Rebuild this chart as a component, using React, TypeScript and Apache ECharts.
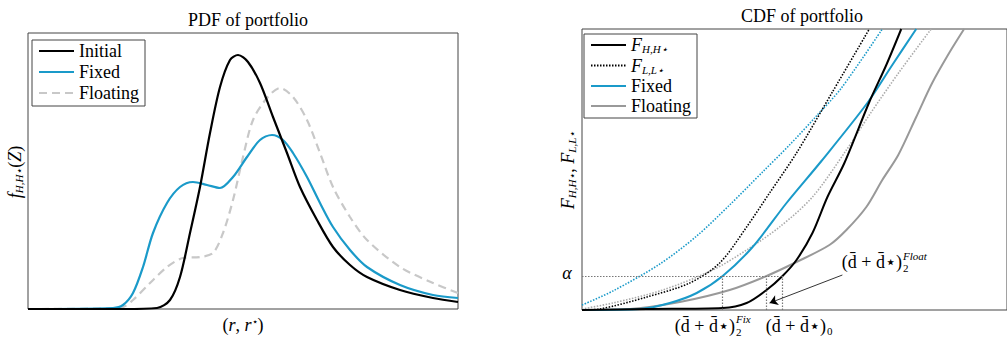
import React, { useEffect, useRef } from "react";
import * as echarts from "echarts";

// ---------- PDF panel data (x, density) ----------
const pdfInitial: number[][] = [
  [0, 0], [95, 0], [129, 1], [142, 9], [152, 32], [162, 76], [172, 122], [182, 176], [192, 222],
  [202, 249], [210, 254], [220, 247], [232, 226], [245, 192], [259, 156], [272, 122], [289, 89],
  [305, 62], [322, 44], [339, 32], [372, 19], [405, 11], [430, 7],
];
const pdfFixed: number[][] = [
  [0, 0], [85, 1], [95, 4], [105, 16], [115, 42], [125, 76], [139, 106], [152, 122], [165, 127],
  [179, 124], [192, 121], [205, 132], [219, 152], [232, 169], [244, 174], [255, 169], [265, 156],
  [279, 132], [292, 106], [305, 82], [322, 59], [339, 42], [372, 24], [405, 14], [430, 11],
];
const pdfFloating: number[][] = [
  [0, 0], [92, 1], [105, 9], [122, 26], [139, 42], [155, 51], [172, 52], [185, 56], [195, 76],
  [205, 109], [215, 152], [225, 189], [239, 211], [252, 221], [265, 212], [279, 189], [292, 156],
  [305, 122], [322, 92], [339, 69], [372, 42], [405, 26], [430, 16],
];

// ---------- CDF panel data (x, cumulative) ----------
const cdfHH: number[][] = [
  [0, 0], [65, 1], [141, 2], [165, 7], [185, 20], [201, 34], [215, 50], [231, 77], [246, 113],
  [263, 147], [288, 208], [305, 245], [320, 281],
];
const cdfLL: number[][] = [
  [0, 0], [18, 1], [65, 13], [108, 27], [138, 47], [165, 83], [188, 117], [215, 157], [251, 218],
  [288, 281],
];
const cdfFixed: number[][] = [
  [0, 0], [58, 1], [88, 7], [115, 17], [141, 34], [171, 63], [205, 107], [240, 149], [286, 207],
  [311, 245], [335, 281],
];
const cdfFixedLL: number[][] = [
  [0, 5], [31, 19], [78, 46], [115, 74], [148, 105], [181, 138], [208, 165], [235, 194], [260, 222],
  [301, 281],
];
const cdfFloating: number[][] = [
  [0, 0], [48, 1], [98, 8], [148, 20], [185, 34], [215, 48], [248, 65], [265, 80], [285, 103],
  [301, 130], [317, 155], [335, 193], [351, 227], [368, 257], [383, 281],
];
const cdfFloatingLL: number[][] = [
  [0, 1], [31, 7], [81, 20], [131, 40], [165, 60], [198, 83], [231, 113], [265, 160], [288, 195],
  [318, 238], [350, 281],
];

// quantile construction
const alphaLevel = 34;
const quantFix = 141;
const quantFloat = 185;
const quantInit = 201;
const arrowFrom = [261, 35];
const arrowTo = [188, 7];

const FONT = "serif";
const BLUE = "#1a9ac9";

const legendNames: Record<string, string> = {
  Initial: "Initial",
  Fixed: "Fixed",
  Floating: "Floating",
  HH: "{i|F}{s|H,H⋆}",
  LL: "{i|F}{s|L,L⋆}",
  cdfFixed: "Fixed",
  cdfFloat: "Floating",
};

const richBase = {
  n: { fontFamily: FONT, fontSize: 18, color: "#000" },
  i: { fontFamily: FONT, fontSize: 18, fontStyle: "italic", color: "#000" },
  s: { fontFamily: FONT, fontSize: 11, fontStyle: "italic", color: "#000", padding: [8, 0, 0, 0] },
};

const hiddenSymbol = { color: "transparent", borderWidth: 0, opacity: 0 };

function App() {
  const ref = useRef<HTMLDivElement>(null);
  useEffect(() => {
    const chart = echarts.init(ref.current!, null, { renderer: "svg" });
    const dotted = [1.5, 1.5];
    const option: any = {
      animation: false,
      textStyle: { fontFamily: FONT },
      title: [
        { text: "PDF of portfolio", left: 243, top: 6, textAlign: "center",
          textStyle: { fontFamily: FONT, fontSize: 18, fontWeight: "normal", color: "#000" } },
        { text: "CDF of portfolio", left: 797, top: 2, textAlign: "center",
          textStyle: { fontFamily: FONT, fontSize: 18, fontWeight: "normal", color: "#000" } },
      ],
      grid: [
        { left: 28, top: 33, width: 430, height: 276, show: true, borderColor: "#444", borderWidth: 1 },
        { left: 582, top: 29, width: 426, height: 281, show: true, borderColor: "#444", borderWidth: 1 },
      ],
      xAxis: [
        { type: "value", gridIndex: 0, min: 0, max: 430, show: false },
        { type: "value", gridIndex: 1, min: 0, max: 426, show: false },
      ],
      yAxis: [
        { type: "value", gridIndex: 0, min: 0, max: 276, show: false },
        { type: "value", gridIndex: 1, min: 0, max: 281, show: false },
      ],
      legend: [
        {
          data: ["Initial", "Fixed", "Floating"],
          orient: "vertical", left: 32, top: 40, padding: [2, 6, 4, 6],
          itemWidth: 35, itemHeight: 14, itemGap: 3,
          borderColor: "#444", borderWidth: 1, backgroundColor: "#fff",
          selectedMode: false, itemStyle: hiddenSymbol,
          textStyle: { fontFamily: FONT, fontSize: 18, color: "#000", lineHeight: 14 },
          formatter: (n: string) => legendNames[n],
        },
        {
          data: ["HH", "LL", "cdfFixed", "cdfFloat"],
          orient: "vertical", left: 584, top: 34, padding: [2, 6, 3, 6],
          itemWidth: 35, itemHeight: 14, itemGap: 2,
          borderColor: "#444", borderWidth: 1, backgroundColor: "#fff",
          selectedMode: false, itemStyle: hiddenSymbol,
          textStyle: { fontFamily: FONT, fontSize: 18, color: "#000", lineHeight: 15, rich: richBase },
          formatter: (n: string) => legendNames[n],
        },
      ],
      series: [
        { name: "Floating", type: "line", xAxisIndex: 0, yAxisIndex: 0, data: pdfFloating, smooth: 0.3,
          symbol: "none", lineStyle: { color: "#c8c8c8", width: 2.2, type: [8, 5] }, itemStyle: { color: "#c8c8c8" }, z: 2 },
        { name: "Fixed", type: "line", xAxisIndex: 0, yAxisIndex: 0, data: pdfFixed, smooth: 0.3,
          symbol: "none", lineStyle: { color: BLUE, width: 2.2 }, itemStyle: { color: BLUE }, z: 3 },
        { name: "Initial", type: "line", xAxisIndex: 0, yAxisIndex: 0, data: pdfInitial, smooth: 0.3,
          symbol: "none", lineStyle: { color: "#000", width: 2.2 }, itemStyle: { color: "#000" }, z: 4 },

        { name: "cdfFloatLL", type: "line", xAxisIndex: 1, yAxisIndex: 1, data: cdfFloatingLL, smooth: 0.3,
          symbol: "none", lineStyle: { color: "#aaa", width: 1.6, type: dotted }, itemStyle: { color: "#aaa" } },
        { name: "cdfFixedLL", type: "line", xAxisIndex: 1, yAxisIndex: 1, data: cdfFixedLL, smooth: 0.3,
          symbol: "none", lineStyle: { color: BLUE, width: 1.6, type: dotted }, itemStyle: { color: BLUE } },
        { name: "LL", type: "line", xAxisIndex: 1, yAxisIndex: 1, data: cdfLL, smooth: 0.3,
          symbol: "none", lineStyle: { color: "#000", width: 1.6, type: dotted }, itemStyle: { color: "#000" } },
        { name: "cdfFloat", type: "line", xAxisIndex: 1, yAxisIndex: 1, data: cdfFloating, smooth: 0.3,
          symbol: "none", lineStyle: { color: "#999", width: 2 }, itemStyle: { color: "#999" } },
        { name: "cdfFixed", type: "line", xAxisIndex: 1, yAxisIndex: 1, data: cdfFixed, smooth: 0.3,
          symbol: "none", lineStyle: { color: BLUE, width: 2 }, itemStyle: { color: BLUE } },
        { name: "HH", type: "line", xAxisIndex: 1, yAxisIndex: 1, data: cdfHH, smooth: 0.3,
          symbol: "none", lineStyle: { color: "#000", width: 2 }, itemStyle: { color: "#000" } },
        { name: "guides", type: "line", xAxisIndex: 1, yAxisIndex: 1, data: [], symbol: "none",
          markLine: {
            silent: true, symbol: "none", label: { show: false },
            lineStyle: { color: "#777", width: 1.2, type: dotted },
            data: [
              [{ coord: [0, alphaLevel] }, { coord: [quantInit, alphaLevel] }],
              [{ coord: [quantFix, 0] }, { coord: [quantFix, alphaLevel] }],
              [{ coord: [quantFloat, 0] }, { coord: [quantFloat, alphaLevel] }],
              [{ coord: [quantInit, 0] }, { coord: [quantInit, alphaLevel] }],
            ],
          } },
        { name: "arrow", type: "line", xAxisIndex: 1, yAxisIndex: 1, data: [], symbol: "none",
          markLine: {
            silent: true, symbol: ["none", "arrow"], symbolSize: 8, label: { show: false },
            lineStyle: { color: "#000", width: 0.8, type: "solid" },
            data: [[{ coord: arrowFrom }, { coord: arrowTo }]],
          } },
      ],
      graphic: [
        // left y label
        { type: "text", x: 15, y: 172, rotation: Math.PI / 2,
          style: { text: "{i|f}{s|H,H⋆}{n|(}{i|Z}{n|)}", rich: richBase, fontFamily: FONT, align: "center", verticalAlign: "middle" } },
        // left x label
        { type: "text", x: 243, y: 325,
          style: { text: "{n|(}{i|r}{n|, }{i|r}{u|⋆}{n|)}", fontFamily: FONT, align: "center", verticalAlign: "middle",
            rich: { ...richBase, u: { fontFamily: FONT, fontSize: 10, color: "#000", padding: [0, 0, 8, 0] } } } },
        // right y label
        { type: "text", x: 568, y: 170, rotation: Math.PI / 2,
          style: { text: "{i|F}{s|H,H⋆}{n|, }{i|F}{s|L,L⋆}", rich: richBase, fontFamily: FONT, align: "center", verticalAlign: "middle" } },
        // alpha
        { type: "text", x: 567, y: 273,
          style: { text: "α", fontFamily: FONT, fontSize: 18, fontStyle: "italic", fill: "#000", align: "center", verticalAlign: "middle" } },
        // Fix quantile label
        { type: "text", x: 735, y: 326,
          style: { text: "(d̄ + d̄⋆)", fontFamily: FONT, fontSize: 18, fill: "#000", align: "right", verticalAlign: "middle" } },
        { type: "text", x: 736, y: 319,
          style: { text: "Fix", fontFamily: FONT, fontSize: 11, fontStyle: "italic", fill: "#000", align: "left", verticalAlign: "middle" } },
        { type: "text", x: 736, y: 332,
          style: { text: "2", fontFamily: FONT, fontSize: 11, fill: "#000", align: "left", verticalAlign: "middle" } },
        // Initial quantile label
        { type: "text", x: 826, y: 326,
          style: { text: "(d̄ + d̄⋆)", fontFamily: FONT, fontSize: 18, fill: "#000", align: "right", verticalAlign: "middle" } },
        { type: "text", x: 827, y: 331,
          style: { text: "0", fontFamily: FONT, fontSize: 11, fill: "#000", align: "left", verticalAlign: "middle" } },
        // Float quantile label
        { type: "text", x: 902, y: 262,
          style: { text: "(d̄ + d̄⋆)", fontFamily: FONT, fontSize: 18, fill: "#000", align: "right", verticalAlign: "middle" } },
        { type: "text", x: 903, y: 256,
          style: { text: "Float", fontFamily: FONT, fontSize: 11, fontStyle: "italic", fill: "#000", align: "left", verticalAlign: "middle" } },
        { type: "text", x: 903, y: 268,
          style: { text: "2", fontFamily: FONT, fontSize: 11, fill: "#000", align: "left", verticalAlign: "middle" } },
      ],
    };
    chart.setOption(option);
    return () => chart.dispose();
  }, []);
  return <div ref={ref} style={{ position: "fixed", left: 0, top: 0, width: 1007, height: 341, background: "#fff" }} />;
}

export default App;
